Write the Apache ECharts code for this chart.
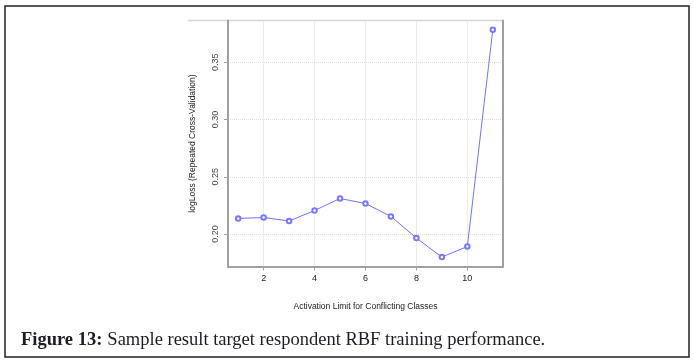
<!DOCTYPE html>
<html>
<head>
<meta charset="utf-8">
<script src="https://cdn.jsdelivr.net/npm/echarts@6/dist/echarts.min.js"></script>
<style>
  html, body { margin: 0; padding: 0; background: #fff; }
  #chart { width: 694px; height: 364px; }
</style>
</head>
<body>
<div id="chart"></div>
<script>
// activation limit (x) and logLoss from repeated CV (y)
const activationLimit = [1, 2, 3, 4, 5, 6, 7, 8, 9, 10, 11]
const logLoss = [0.2136, 0.2145, 0.2114, 0.2206, 0.2311, 0.2267, 0.2154, 0.1965, 0.1799, 0.1892, 0.3785]
const xTicks = [2, 4, 6, 8, 10]
const yTicks = [0.20, 0.25, 0.30, 0.35]

const axisGray = '#a0a0a0'
const gridGray = '#dcdcdc'

const chart = echarts.init(document.getElementById('chart'))

chart.setOption({
  animation: false,
  backgroundColor: '#fff',
  title: {
    left: 16,
    top: 326,
    text: '{b|Figure 13:} {n|Sample result target respondent RBF training performance.}',
    textStyle: {
      fontWeight: 'normal',
      rich: {
        b: { fontFamily: 'Liberation Serif', fontWeight: 'bold', fontSize: 18.5, color: '#1c1c28' },
        n: { fontFamily: 'Liberation Serif', fontWeight: 'normal', fontSize: 18.5, color: '#1c1c28' }
      }
    }
  },
  graphic: [
    {
      type: 'rect',
      shape: { x: 5, y: 6, width: 684, height: 351 },
      style: { fill: 'none', stroke: '#222', lineWidth: 1.5 },
      silent: true
    },
    {
      type: 'line',
      shape: { x1: 188, y1: 20.5, x2: 503, y2: 20.5 },
      style: { stroke: '#d4d4d4', lineWidth: 1.5 },
      silent: true
    }
  ],
  grid: { left: 228, right: 191, top: 20.5, bottom: 97.5 },
  xAxis: {
    type: 'value',
    min: 0.6,
    max: 11.4,
    name: 'Activation Limit for Conflicting Classes',
    nameLocation: 'middle',
    nameGap: 36,
    nameTextStyle: { fontFamily: 'Liberation Sans', fontSize: 8.5, color: '#222' },
    axisLine: { show: true, onZero: false, lineStyle: { color: axisGray, width: 2 } },
    axisTick: { show: true, length: 4, customValues: xTicks, lineStyle: { color: axisGray } },
    axisLabel: { customValues: xTicks, margin: 8, fontFamily: 'Liberation Sans', fontSize: 9, color: '#222' },
    splitLine: { show: true, customValues: xTicks, lineStyle: { color: gridGray, type: 'dotted' } }
  },
  yAxis: [
    {
      type: 'value',
      min: 0.1717,
      max: 0.3865,
      name: 'logLoss (Repeated Cross-Validation)',
      nameLocation: 'middle',
      nameRotate: 90,
      nameGap: 31,
      nameTextStyle: { fontFamily: 'Liberation Sans', fontSize: 8.5, color: '#222' },
      axisLine: { show: true, onZero: false, lineStyle: { color: axisGray, width: 2 } },
      axisTick: { show: true, length: 4, customValues: yTicks, lineStyle: { color: axisGray } },
      axisLabel: {
        customValues: yTicks,
        rotate: 90,
        margin: 8,
        fontFamily: 'Liberation Sans',
        fontSize: 9,
        color: '#444',
        formatter: v => v.toFixed(2)
      },
      splitLine: { show: true, customValues: yTicks, lineStyle: { color: gridGray, type: 'dotted' } }
    },
    {
      type: 'value',
      position: 'right',
      min: 0.1717,
      max: 0.3865,
      axisLine: { show: true, onZero: false, lineStyle: { color: axisGray, width: 2 } },
      axisTick: { show: false },
      axisLabel: { show: false },
      splitLine: { show: false }
    }
  ],
  series: [
    {
      type: 'line',
      data: activationLimit.map((x, i) => [x, logLoss[i]]),
      symbol: 'emptyCircle',
      symbolSize: 4.5,
      lineStyle: { color: '#7373ff', width: 1 },
      itemStyle: { color: '#7878ff', borderWidth: 0.7 },
      z: 5
    }
  ]
})
</script>
</body>
</html>
